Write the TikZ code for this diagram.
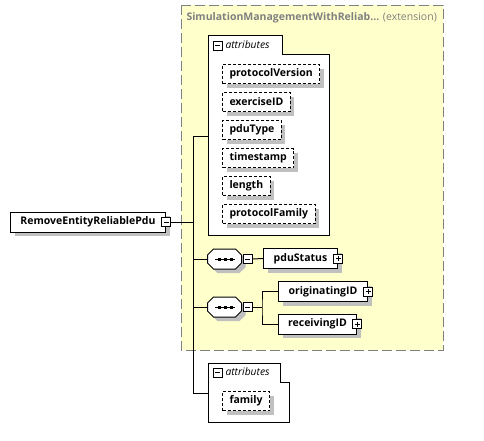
\documentclass[tikz,border=0pt]{standalone}
\usepackage{fontspec}
\setmainfont{Open Sans}
\usetikzlibrary{shapes.misc}

\definecolor{extfill}{HTML}{FFFFCC}
\definecolor{extgrey}{HTML}{808080}
\definecolor{shadegrey}{HTML}{C0C0C0}

\begin{document}
\begin{tikzpicture}[x=1pt,y=-1pt,line width=1pt,
  box shadow/.style={preaction={draw=none,fill=shadegrey,transform canvas={shift={(4pt,-4pt)}}}},
  elem node/.style={draw,fill=white,anchor=west,minimum height=20pt,inner xsep=6pt,inner ysep=0pt,
    font=\bfseries\fontsize{10.5}{12}\selectfont,box shadow},
  attr node/.style={elem node,dash pattern=on 3pt off 2pt,minimum height=19pt,inner xsep=7pt},
  seq node/.style={inner sep=0pt,minimum width=34pt,minimum height=20pt},
  seq shape/.style={draw,fill=white,box shadow},
  minus node/.style={draw,fill=white,line width=0.8pt,minimum size=9pt,inner sep=0pt,
    path picture={\draw[line width=0.8pt] ([xshift=2pt]path picture bounding box.west) -- ([xshift=-2pt]path picture bounding box.east);}},
  plus node/.style={draw,fill=white,line width=0.8pt,minimum size=9pt,inner sep=0pt,
    path picture={\draw[line width=0.8pt] ([xshift=2pt]path picture bounding box.west) -- ([xshift=-2pt]path picture bounding box.east)
      ([yshift=-2pt]path picture bounding box.north) -- ([yshift=2pt]path picture bounding box.south);}},
  group label/.style={anchor=west,inner sep=0pt,font=\itshape\fontsize{10.3}{12}\selectfont}]
  \useasboundingbox (0,0) rectangle (484,440);

  % extension base
  \draw[fill=extfill,draw=extgrey,dash pattern=on 10pt off 4pt] (181,5) rectangle (443,350);
  \node[anchor=west,inner sep=0pt,text=extgrey,font=\fontsize{10.5}{12}\selectfont] (extTitle) at (186,18)
    {\textbf{SimulationManagementWithReliab...} (extension)};

  % spine
  \coordinate (spineTop) at (193,136);
  \coordinate (spineBot) at (193,393);
  \coordinate (attrA) at (208,136);
  \coordinate (attrB) at (208,393);
  \coordinate (branch) at (262,307);
  \draw (spineTop) -- (spineBot);
  \draw (spineTop) -- (attrA);
  \draw (spineBot) -- (attrB);

  % root element
  \node[elem node,minimum width=155pt] (root) at (10,222) {RemoveEntityReliablePdu};
  \node[minus node] (rootTog) at (root.east) {};
  \draw (rootTog.east) -- (rootTog.east -| spineTop);

  % inherited attributes
  \draw[fill=white] (208,235) -- (208,35) -- (282,35) -- (282,54) -- (329,54) -- (329,235) -- cycle;
  \node[minus node] (attrATog) at (217.5,45.5) {};
  \node[group label] (attrALabel) at (225,45) {attributes};
  \node[attr node] (protocolVersion) at (222,74) {protocolVersion};
  \node[attr node] (exerciseID) at (222,102) {exerciseID};
  \node[attr node] (pduType) at (222,130) {pduType};
  \node[attr node] (timestamp) at (222,158) {timestamp};
  \node[attr node] (length) at (222,186) {length};
  \node[attr node] (protocolFamily) at (222,214) {protocolFamily};

  % first sequence
  \node[seq node] (seq1) at (225,259) {};
  \draw[seq shape] (seq1.west) ++(0,-4) -- ++(6,-6) -- ++(22,0) -- ++(6,6) -- ++(0,8)
    -- ++(-6,6) -- ++(-22,0) -- ++(-6,-6) -- cycle;
  \draw (seq1.center) ++(-10,0) -- ++(20,0);
  \foreach \dx in {-6,0,6}
    \fill ([xshift=\dx pt]seq1.center) +(-1.5,-1.5) rectangle +(1.5,1.5);
  \node[minus node] (seq1Tog) at (247.5,259) {};
  \draw (spineTop |- seq1) -- (seq1.west);
  \node[elem node,minimum width=74pt] (pduStatus) at (263,258.5) {pduStatus};
  \node[plus node] (pduStatusTog) at (pduStatus.east) {};
  \draw (seq1Tog.east) -- (pduStatus.west);

  % second sequence
  \node[seq node] (seq2) at (225,307) {};
  \draw[seq shape] (seq2.west) ++(0,-4) -- ++(6,-6) -- ++(22,0) -- ++(6,6) -- ++(0,8)
    -- ++(-6,6) -- ++(-22,0) -- ++(-6,-6) -- cycle;
  \draw (seq2.center) ++(-10,0) -- ++(20,0);
  \foreach \dx in {-6,0,6}
    \fill ([xshift=\dx pt]seq2.center) +(-1.5,-1.5) rectangle +(1.5,1.5);
  \node[minus node] (seq2Tog) at (247.5,307) {};
  \draw (spineTop |- seq2) -- (seq2.west);
  \node[elem node,minimum width=89pt] (originatingID) at (278,291.5) {originatingID};
  \node[plus node] (originatingIDTog) at (originatingID.east) {};
  \node[elem node,minimum width=78pt] (receivingID) at (278,324) {receivingID};
  \node[plus node] (receivingIDTog) at (receivingID.east) {};
  \draw (seq2Tog.east) -- (branch);
  \draw (originatingID.west) -| (branch) |- (receivingID.west);

  % own attributes
  \draw[fill=white] (208,422) -- (208,363) -- (280,363) -- (280,382) -- (289,382) -- (289,422) -- cycle;
  \node[minus node] (attrBTog) at (217.5,372.5) {};
  \node[group label] (attrBLabel) at (225,372) {attributes};
  \node[attr node] (family) at (222,401) {family};
\end{tikzpicture}
\end{document}
